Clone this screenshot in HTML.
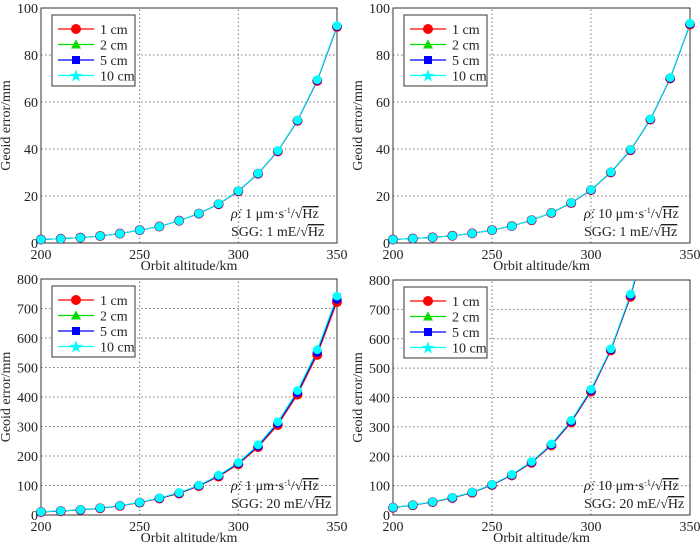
<!DOCTYPE html>
<html><head><meta charset="utf-8"><style>
body{margin:0;background:#fff;font-family:"Liberation Serif",serif}
svg text{font-family:"Liberation Serif",serif;font-size:14px;fill:#222}
</style></head><body>
<svg id="c" width="700" height="544"></svg>
<script>
const xCats=[200,210,220,230,240,250,260,270,280,290,300,310,320,330,340,350];
const seriesNames=["1 cm","2 cm","5 cm","10 cm"];
const tl1=[1.5,1.8,2.3,3,4,5.5,7,9.5,12.5,16.5,22,29.5,39,52,69,92];
const tl10=[1.5,1.8,2.3,3,4,5.5,7,9.5,12.6,16.7,22.2,29.7,39.3,52.3,69.5,92.5];
const tr1=[1.5,1.9,2.4,3.1,4.1,5.5,7.2,9.7,12.8,17,22.5,30,39.5,52.5,70,93];
const tr10=[1.5,1.9,2.4,3.1,4.1,5.5,7.2,9.8,12.9,17.2,22.7,30.2,39.8,52.8,70.4,93.5];
const bl1=[10,13,17,23,31,42,56,73,98,130,172,230,305,408,543,722];
const bl10=[11,14,18,24,32,43,58,76,101,135,178,238,316,422,560,742];
const br1=[25,33,44,58,76,102,135,178,237,315,420,560,743,990,1320,1760];
const br10=[26,34,45,60,78,104,138,182,242,322,428,566,752,1000,1335,1780];
const yTicksTop=[0,20,40,60,80,100];
const yTicksBot=[0,100,200,300,400,500,600,700,800];
const xTicks=[200,250,300,350];
const panels=[
 {n:"top-left",x0:41,x1:337,y0:243,y1:8,ymax:100,yt:yTicksTop,s1:tl1,s10:tl10,a:"1",g:"1"},
 {n:"top-right",x0:393,x1:690,y0:243,y1:8,ymax:100,yt:yTicksTop,s1:tr1,s10:tr10,a:"10",g:"1"},
 {n:"bottom-left",x0:41,x1:337,y0:515,y1:279,ymax:800,yt:yTicksBot,s1:bl1,s10:bl10,a:"1",g:"20"},
 {n:"bottom-right",x0:393,x1:690,y0:515,y1:280,ymax:800,yt:yTicksBot,s1:br1,s10:br10,a:"10",g:"20"}];
const NS="http://www.w3.org/2000/svg";
const svg=document.getElementById("c");
function mk(t,at,par){const e=document.createElementNS(NS,t);for(const k in at)e.setAttribute(k,at[k]);(par||svg).appendChild(e);return e;}
panels.forEach((p,pi)=>{
 const g=mk("g",{});
 
 
 const sx=v=>p.x0+(v-200)/150*(p.x1-p.x0);
 const sy=v=>p.y0-(v/p.ymax)*(p.y0-p.y1);
 const cid="clip"+pi;
 const cp=mk("clipPath",{id:cid},g);mk("rect",{x:p.x0-6,y:p.y1,width:p.x1-p.x0+12,height:p.y0-p.y1+6},cp);
 xTicks.forEach(v=>{
  if(v>200&&v<350){const l=mk("line",{x1:sx(v),x2:sx(v),y1:p.y0,y2:p.y1,stroke:"#777","stroke-dasharray":"1.5,2.5"},g);}
  const t=mk("text",{x:sx(v),y:p.y0+16,"text-anchor":"middle"},g);t.textContent=v;
  
 });
 p.yt.forEach(v=>{
  if(v>0&&v<p.ymax){const l=mk("line",{x1:p.x0,x2:p.x1,y1:sy(v),y2:sy(v),stroke:"#777","stroke-dasharray":"1.5,2.5"},g);}
  const t=mk("text",{x:p.x0-3,y:sy(v)+5,"text-anchor":"end"},g);t.textContent=v;
  
 });
 const fr=mk("rect",{x:p.x0,y:p.y1,width:p.x1-p.x0,height:p.y0-p.y1,fill:"none",stroke:"#333"},g);
 
 const xl=mk("text",{x:(p.x0+p.x1)/2,y:p.y0+27,"text-anchor":"middle"},g);xl.textContent="Orbit altitude/km";
 
 const cy=(p.y0+p.y1)/2, lx=p.x0-31;
 const yl=mk("text",{x:lx,y:cy,"text-anchor":"middle",transform:`rotate(-90 ${lx} ${cy})`},g);yl.textContent="Geoid error/mm";
 
 const pg=mk("g",{"clip-path":`url(#${cid})`},g);
 const pts=s=>s.map((v,i)=>sx(xCats[i])+","+sy(v)).join(" ");
 const cols=["red","#0d0","blue","cyan"];
 const mid=p.s1.map((v,i)=>(v+p.s10[i])/2);
 [p.s1,mid,mid,p.s10].forEach((s,k)=>{
  const l=mk("polyline",{points:pts(s),fill:"none",stroke:cols[k],"stroke-width":1},pg);
  
 });
 xCats.forEach((c,i)=>{
  const m1=mk("circle",{cx:sx(c),cy:sy(p.s1[i]),r:5,fill:"red"},pg);
  
  const m2=mk("circle",{cx:sx(c),cy:sy(mid[i]),r:4.6,fill:"blue"},pg);
  
  const m3=mk("circle",{cx:sx(c),cy:sy(p.s10[i]),r:4.4,fill:"cyan"},pg);
  
 });
 const L=mk("g",{},g);
 const lx0=p.x0+11, ly0=p.y1+7;
 mk("rect",{x:lx0,y:ly0,width:83,height:71,fill:"#fff",stroke:"#333"},L);
 seriesNames.forEach((nm,k)=>{
  const yy=ly0+14+k*15.5;
  const e=mk("g",{},L);
  mk("line",{x1:lx0+6,x2:lx0+42,y1:yy,y2:yy,stroke:cols[k],"stroke-width":1.2},e);
  const cx=lx0+24;
  if(k==0)mk("circle",{cx:cx,cy:yy,r:5,fill:"red"},e);
  if(k==1)mk("polygon",{points:`${cx-5},${yy+4} ${cx+5},${yy+4} ${cx},${yy-5}`,fill:"#0d0"},e);
  if(k==2)mk("rect",{x:cx-4,y:yy-4,width:8,height:8,fill:"blue"},e);
  if(k==3){const t=mk("text",{x:cx,y:yy+6,"text-anchor":"middle",style:"font-size:17px;fill:cyan"},e);t.textContent="★";}
  const t=mk("text",{x:lx0+48,y:yy+5},e);t.textContent=nm;
 });
 const an=mk("text",{x:p.x1-106,y:p.y0-25},g);
 
 an.innerHTML=`<tspan font-style="italic">ρ̇</tspan>: ${p.a} μm·s<tspan font-size="8" dy="-5">-1</tspan><tspan dy="5">/√</tspan><tspan text-decoration="overline">Hz</tspan>`;
 const an2=mk("text",{x:p.x1-106,y:p.y0-7},g);
 
 an2.innerHTML=`SGG: ${p.g} mE/√<tspan text-decoration="overline">Hz</tspan>`;
});
</script>
</body></html>
